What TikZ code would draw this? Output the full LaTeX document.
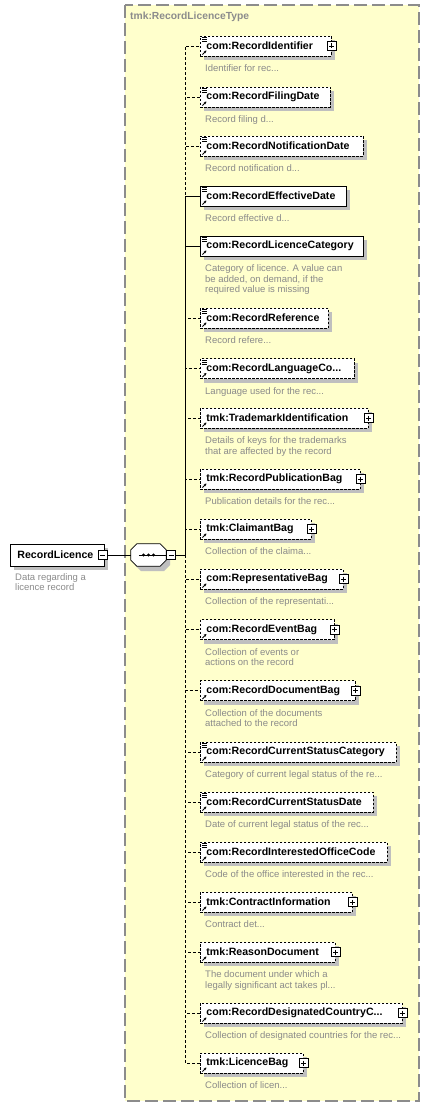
\documentclass[tikz,border=0pt]{standalone}
\usepackage{fontspec}
\setmainfont{Liberation Sans}
\usetikzlibrary{arrows.meta}
\definecolor{XSYellow}{HTML}{FFFFCC}
\definecolor{XSFrame}{HTML}{8C8C8C}
\definecolor{XSDesc}{HTML}{8A8A8A}

\newcommand\refarrow{\draw[solid,line width=0.9pt,-{Stealth[length=2.6pt,width=2.8pt]}]
  ([xshift=2pt,yshift=1.5pt]path picture bounding box.south west) -- ++(4pt,4pt);}
\newcommand\simplelines{\foreach \dy in {1.5,3.5,5.5}
  \draw[solid,line width=0.7pt] ([xshift=1.5pt,yshift=-\dy pt]path picture bounding box.north west) -- ++(5pt,0pt);}
% grey shadow of a child box: centre line #1, text width #2
\newcommand\elemshade[2]{\fill[black!25] (204,#1-6) rectangle (216+#2,#1+14);}

\tikzset{
  elem/.style={draw,fill=white,anchor=west,align=left,line width=0.8pt,
    minimum height=20pt,inner ysep=0pt,inner xsep=6pt,
    font=\fontsize{10.6}{12}\selectfont\bfseries,
    path picture={\refarrow}},
  simple/.style={path picture={\refarrow\simplelines}},
  opt/.style={dash pattern=on 2.5pt off 1.5pt},
  desc/.style={anchor=north west,align=left,inner sep=0pt,text=XSDesc,
    font=\fontsize{9.5}{10.7}\selectfont},
  plusbox/.style={draw,solid,fill=white,line width=0.8pt,minimum size=9pt,inner sep=0pt,
    path picture={\draw[line width=0.8pt]
      ([xshift=2pt]path picture bounding box.west) -- ([xshift=-2pt]path picture bounding box.east)
      ([yshift=-2pt]path picture bounding box.north) -- ([yshift=2pt]path picture bounding box.south);}},
  minusbox/.style={draw,solid,fill=white,line width=0.8pt,minimum size=9pt,inner sep=0pt,
    path picture={\draw[line width=0.8pt]
      ([xshift=2pt]path picture bounding box.west) -- ([xshift=-2pt]path picture bounding box.east);}},
  seqbox/.style={minimum width=35pt,minimum height=22pt,inner sep=0pt},
  conn/.style={line width=0.8pt},
  optline/.style={dash pattern=on 3pt off 2pt},
}

\begin{document}
\begin{tikzpicture}[x=1pt,y=-1pt]
\useasboundingbox (0,0) rectangle (430,1107);
% complex type area
\draw[fill=XSYellow,draw=XSFrame,line width=1.2pt,dash pattern=on 13pt off 5pt] (125,5) rectangle (419,1101);
\node[anchor=west,inner sep=0pt,text=XSFrame,font=\fontsize{10.3}{12}\selectfont\bfseries] (typename) at (130,17) {tmk:RecordLicenceType};

% shadows
\fill[black!25] (14,548) rectangle (108,570);
\fill[black!25] (141,548) -- (164,548) -- (170,554) -- (170,565) -- (164,571) -- (141,571) -- (135,565) -- (135,554) -- cycle;
\elemshade{46}{119}  \elemshade{97}{118}  \elemshade{146}{151} \elemshade{196}{134}
\elemshade{246}{151} \elemshade{318}{116} \elemshade{368.5}{142} \elemshade{418}{156}
\elemshade{479}{148} \elemshade{529}{99}  \elemshade{579}{131} \elemshade{629.5}{122}
\elemshade{690.5}{143} \elemshade{752}{184} \elemshade{802}{161} \elemshade{852}{175}
\elemshade{902}{140} \elemshade{952}{123} \elemshade{1013}{190} \elemshade{1063}{91}

% root element and sequence
\node[elem,path picture={},text width=80pt,minimum height=22pt,inner xsep=7pt] (rec) at (10,555) {RecordLicence};
\node[minusbox] (recm) at ([xshift=-2pt]rec.east) {};
\node[desc] (recd) at (15,573) {Data regarding a\\licence record};
\node[seqbox] (seq) at (148.5,555) {};
\draw[fill=white,line width=0.8pt] ([xshift=6pt]seq.north west) -- ([xshift=-6pt]seq.north east)
  -- ([yshift=-6pt]seq.north east) -- ([yshift=6pt]seq.south east) -- ([xshift=-6pt]seq.south east)
  -- ([xshift=6pt]seq.south west) -- ([yshift=6pt]seq.south west) -- ([yshift=-6pt]seq.north west) -- cycle;
\draw[line width=0.8pt] ([xshift=8pt]seq.west) -- (seq.east);
\foreach \dx in {-5,0,5} \fill ([xshift=\dx pt]seq.center) circle (1.6pt);
\node[minusbox,anchor=west] (seqm) at (seq.east) {};
\coordinate (bus) at (185,555);

% child elements
\node[elem,simple,opt,text width=119pt] (recid) at (200,46) {com:RecordIdentifier};
\node[plusbox] (recidp) at (recid.east) {};
\node[desc] (recidd) at (205,64.5) {Identifier for rec...};

\node[elem,simple,opt,text width=118pt] (filedate) at (200,97) {com:RecordFilingDate};
\node[desc] (filedated) at (205,115.5) {Record filing d...};

\node[elem,simple,opt,text width=151pt] (notifdate) at (200,146) {com:RecordNotificationDate};
\node[desc] (notifdated) at (205,164.5) {Record notification d...};

\node[elem,simple,text width=134pt] (effdate) at (200,196) {com:RecordEffectiveDate};
\node[desc] (effdated) at (205,214.5) {Record effective d...};

\node[elem,simple,text width=151pt] (liccat) at (200,246) {com:RecordLicenceCategory};
\node[desc] (liccatd) at (205,264.5) {Category of licence. A value can\\be added, on demand, if the\\required value is missing};

\node[elem,simple,opt,text width=116pt] (recref) at (200,318) {com:RecordReference};
\node[desc] (recrefd) at (205,336.5) {Record refere...};

\node[elem,simple,opt,text width=142pt] (langcode) at (200,368.5) {com:RecordLanguageCo...};
\node[desc] (langcoded) at (205,387) {Language used for the rec...};

\node[elem,opt,text width=156pt] (tmident) at (200,418) {tmk:TrademarkIdentification};
\node[plusbox] (tmidentp) at (tmident.east) {};
\node[desc] (tmidentd) at (205,436.5) {Details of keys for the trademarks\\that are affected by the record};

\node[elem,opt,text width=148pt] (pubbag) at (200,479) {tmk:RecordPublicationBag};
\node[plusbox] (pubbagp) at (pubbag.east) {};
\node[desc] (pubbagd) at (205,497.5) {Publication details for the rec...};

\node[elem,opt,text width=99pt] (claimbag) at (200,529) {tmk:ClaimantBag};
\node[plusbox] (claimbagp) at (claimbag.east) {};
\node[desc] (claimbagd) at (205,547.5) {Collection of the claima...};

\node[elem,opt,text width=131pt] (reprbag) at (200,579) {com:RepresentativeBag};
\node[plusbox] (reprbagp) at (reprbag.east) {};
\node[desc] (reprbagd) at (205,597.5) {Collection of the representati...};

\node[elem,opt,text width=122pt] (eventbag) at (200,629.5) {com:RecordEventBag};
\node[plusbox] (eventbagp) at (eventbag.east) {};
\node[desc] (eventbagd) at (205,648) {Collection of events or\\actions on the record};

\node[elem,opt,text width=143pt] (docbag) at (200,690.5) {com:RecordDocumentBag};
\node[plusbox] (docbagp) at (docbag.east) {};
\node[desc] (docbagd) at (205,709) {Collection of the documents\\attached to the record};

\node[elem,simple,opt,text width=184pt] (statcat) at (200,752) {com:RecordCurrentStatusCategory};
\node[desc] (statcatd) at (205,770.5) {Category of current legal status of the re...};

\node[elem,simple,opt,text width=161pt] (statdate) at (200,802) {com:RecordCurrentStatusDate};
\node[desc] (statdated) at (205,820.5) {Date of current legal status of the rec...};

\node[elem,simple,opt,text width=175pt] (officecode) at (200,852) {com:RecordInterestedOfficeCode};
\node[desc] (officecoded) at (205,870.5) {Code of the office interested in the rec...};

\node[elem,opt,text width=140pt] (contract) at (200,902) {tmk:ContractInformation};
\node[plusbox] (contractp) at (contract.east) {};
\node[desc] (contractd) at (205,920.5) {Contract det...};

\node[elem,opt,text width=123pt] (reasondoc) at (200,952) {tmk:ReasonDocument};
\node[plusbox] (reasondocp) at (reasondoc.east) {};
\node[desc] (reasondocd) at (205,970.5) {The document under which a\\legally significant act takes pl...};

\node[elem,opt,text width=190pt] (countrybag) at (200,1013) {com:RecordDesignatedCountryC...};
\node[plusbox] (countrybagp) at (countrybag.east) {};
\node[desc] (countrybagd) at (205,1031.5) {Collection of designated countries for the rec...};

\node[elem,opt,text width=91pt] (licbag) at (200,1063) {tmk:LicenceBag};
\node[plusbox] (licbagp) at (licbag.east) {};
\node[desc] (licbagd) at (205,1081.5) {Collection of licen...};

% connectors
\draw[conn] (recm) -- (seq);
\draw[conn] (seqm) -- (bus);
\draw[conn,optline] (bus) |- (recid.west);
\draw[conn,optline] (bus) |- (filedate.west);
\draw[conn,optline] (bus) |- (notifdate.west);
\draw[conn] (bus) |- (effdate.west);
\draw[conn] (bus) |- (liccat.west);
\draw[conn,optline] (bus) |- (recref.west);
\draw[conn,optline] (bus) |- (langcode.west);
\draw[conn,optline] (bus) |- (tmident.west);
\draw[conn,optline] (bus) |- (pubbag.west);
\draw[conn,optline] (bus) |- (claimbag.west);
\draw[conn,optline] (bus) |- (reprbag.west);
\draw[conn,optline] (bus) |- (eventbag.west);
\draw[conn,optline] (bus) |- (docbag.west);
\draw[conn,optline] (bus) |- (statcat.west);
\draw[conn,optline] (bus) |- (statdate.west);
\draw[conn,optline] (bus) |- (officecode.west);
\draw[conn,optline] (bus) |- (contract.west);
\draw[conn,optline] (bus) |- (reasondoc.west);
\draw[conn,optline] (bus) |- (countrybag.west);
\draw[conn,optline] (bus) |- (licbag.west);
\end{tikzpicture}
\end{document}
